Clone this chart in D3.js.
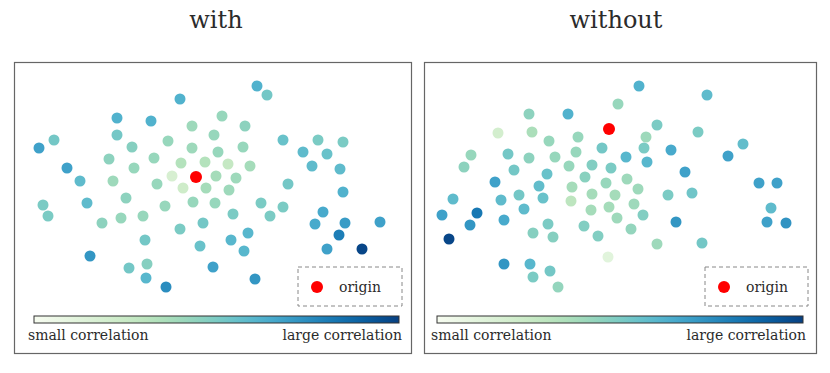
<!DOCTYPE html>
<html><head><meta charset="utf-8">
<script src="https://cdn.jsdelivr.net/npm/d3@7"></script>
<style>body{margin:0;background:#fff}svg{display:block}</style>
</head><body>
<script>
// Data: embedding coordinates (x, y) and correlation strength c (0..1)
const titles = ["with", "without"];
const legendLabel = "origin";
const cbarLabels = ["small correlation", "large correlation"];

const withX = [16.6,24.3,25.3,10.3,13.7,17.8,20.8,23.1,4.0,2.5,10.3,11.8,15.4,20.0,17.8,20.4,22.9,26.9,30.4,32.9,9.5,14.0,12.0,16.7,19.1,21.4,23.6,28.9,31.3,29.8,32.6,5.3,6.6,9.9,14.3,15.8,20.2,22.2,16.9,19.2,21.5,27.4,32.9,2.9,3.4,7.3,11.2,15.1,17.9,20.1,24.7,26.9,8.8,10.7,12.9,21.9,25.6,30.9,16.6,18.9,23.4,30.1,33.1,36.6,13.1,18.6,21.7,23.0,32.5,34.8,31.3,7.6,19.9,11.5,13.3,13.2,15.2,24.1];
const withY = [25.5,26.8,25.9,23.6,23.3,22.8,23.8,22.8,21.4,20.6,21.9,20.7,21.3,21.9,20.6,20.2,20.7,21.4,21.4,21.2,19.5,19.6,18.6,19.1,19.2,19.0,18.8,20.2,20.0,18.8,18.5,18.6,17.3,17.3,17.0,17.8,17.8,17.6,16.6,16.6,16.4,17.0,16.2,14.9,13.8,15.1,15.6,14.8,15.2,15.1,15.1,14.7,13.1,13.6,13.8,14.0,13.8,14.2,12.5,13.1,12.1,13.0,13.1,13.2,11.4,10.8,11.4,10.3,11.9,10.5,10.5,9.8,8.7,8.6,9.0,7.6,6.7,7.5];
const withC = [0.62,0.62,0.52,0.62,0.62,0.40,0.42,0.45,0.52,0.68,0.52,0.47,0.42,0.42,0.40,0.42,0.42,0.55,0.50,0.50,0.45,0.42,0.42,0.33,0.33,0.27,0.38,0.58,0.55,0.58,0.58,0.68,0.58,0.40,0.42,0.18,0.38,0.40,0.23,0.38,0.40,0.52,0.62,0.50,0.50,0.58,0.45,0.42,0.42,0.42,0.50,0.50,0.45,0.42,0.42,0.50,0.50,0.65,0.50,0.52,0.60,0.65,0.70,0.68,0.52,0.55,0.60,0.60,0.80,0.98,0.68,0.72,0.68,0.52,0.47,0.60,0.75,0.72];
const withOrigin = [18.2, 17.7];

const withoutX = [21.5,28.3,19.4,10.5,14.4,23.3,7.4,10.8,27.4,12.5,15.4,22.2,31.9,4.7,8.4,10.5,13.1,15.2,17.8,22.0,20.2,24.7,30.4,4.0,9.0,12.3,14.5,16.8,18.7,22.3,26.1,7.1,11.5,14.8,16.1,18.2,20.3,21.4,33.5,35.3,2.9,7.7,9.5,11.9,14.7,16.8,19.1,24.4,26.8,10.0,16.7,18.5,21.0,34.7,1.8,5.3,4.6,8.0,12.4,16.0,19.3,21.9,25.2,34.3,36.2,10.9,12.9,17.4,20.7,2.5,23.3,27.8,18.4,8.0,10.6,10.9,12.6,13.4];
const withoutY = [26.8,25.9,25.0,24.0,24.0,22.9,22.1,22.2,22.2,21.3,21.7,21.7,21.0,19.9,20.0,19.6,19.7,20.2,20.6,20.6,19.7,20.4,19.8,18.7,18.4,18.0,18.8,18.9,18.6,19.2,18.2,17.2,16.8,16.7,17.7,17.1,17.5,16.5,17.1,17.1,15.5,15.4,15.9,15.6,15.3,16.0,15.9,15.9,16.1,14.5,14.4,14.7,15.0,14.6,13.9,14.1,12.9,13.4,13.0,12.8,13.6,13.9,13.2,13.2,13.1,12.1,11.7,11.8,12.5,11.5,11.0,11.1,9.7,9.0,9.0,7.7,8.3,6.7];
const withoutC = [0.62,0.58,0.42,0.45,0.62,0.50,0.20,0.36,0.50,0.42,0.42,0.40,0.57,0.42,0.52,0.45,0.42,0.42,0.52,0.50,0.60,0.65,0.68,0.45,0.52,0.55,0.42,0.48,0.50,0.60,0.68,0.68,0.57,0.38,0.46,0.42,0.40,0.40,0.68,0.68,0.58,0.58,0.52,0.55,0.30,0.38,0.38,0.50,0.53,0.58,0.38,0.38,0.40,0.58,0.68,0.82,0.72,0.65,0.50,0.48,0.40,0.48,0.72,0.68,0.73,0.47,0.47,0.48,0.43,0.98,0.40,0.52,0.12,0.72,0.60,0.50,0.52,0.43];
const withoutOrigin = [18.5, 22.5];

const W = 830, H = 373;
const svg = d3.select("body").append("svg").attr("width", W).attr("height", H);
const serif = "'DejaVu Serif', serif";
const textCol = "#2b2b2b";
const color = d3.scaleSequential(d3.interpolateGnBu).domain([0, 1]);

// gradient
const defs = svg.append("defs");
const grad = defs.append("linearGradient").attr("id", "cbar").attr("x1", "0%").attr("x2", "100%");
d3.range(0, 1.0001, 0.05).forEach(t => grad.append("stop").attr("offset", (t * 100) + "%").attr("stop-color", color(t)));

const panels = [
  {title: titles[0], xs: withX, ys: withY, cs: withC, origin: withOrigin,
   left: 14, right: 412, titleX: 216, cbar: [34, 399], legend: [298, 402]},
  {title: titles[1], xs: withoutX, ys: withoutY, cs: withoutC, origin: withoutOrigin,
   left: 424, right: 817, titleX: 616, cbar: [437, 803], legend: [705, 808]}
];
const panelTop = 62, panelBottom = 354;

panels.forEach(p => {
  const g = svg.append("g");
  const w = p.right - p.left;
  const x = d3.scaleLinear().domain([0, w / 10]).range([p.left, p.right]);
  const y = d3.scaleLinear().domain([0, (panelBottom - panelTop) / 10]).range([panelBottom, panelTop]);

  g.append("text").attr("x", p.titleX).attr("y", 28).attr("text-anchor", "middle")
    .attr("font-family", serif).attr("font-size", 24).attr("fill", textCol).text(p.title);

  g.append("rect").attr("x", p.left + 0.5).attr("y", panelTop + 0.5).attr("width", w - 1).attr("height", panelBottom - panelTop - 1)
    .attr("fill", "none").attr("stroke", "#666").attr("stroke-width", 1.2);

  const pts = p.xs.map((v, i) => ({x: v, y: p.ys[i], c: p.cs[i]}));
  g.selectAll("circle.pt").data(pts).join("circle").attr("class", "pt")
    .attr("cx", d => x(d.x)).attr("cy", d => y(d.y)).attr("r", 5.5)
    .attr("fill", d => color(d.c));

  g.append("circle").attr("cx", x(p.origin[0])).attr("cy", y(p.origin[1])).attr("r", 6).attr("fill", "#ff0000");

  // legend
  const [lx0, lx1] = p.legend;
  g.append("rect").attr("x", lx0).attr("y", 267).attr("width", lx1 - lx0).attr("height", 39)
    .attr("fill", "#fff").attr("stroke", "#888").attr("stroke-width", 1).attr("stroke-dasharray", "4,3");
  g.append("circle").attr("cx", lx0 + 19).attr("cy", 287).attr("r", 6).attr("fill", "#ff0000");
  g.append("text").attr("x", lx0 + 41).attr("y", 292).attr("font-family", serif).attr("font-size", 14)
    .attr("fill", textCol).text(legendLabel);

  // colorbar
  const [cx0, cx1] = p.cbar;
  g.append("rect").attr("x", cx0).attr("y", 316).attr("width", cx1 - cx0).attr("height", 7)
    .attr("fill", "url(#cbar)").attr("stroke", "#333").attr("stroke-width", 1);
  g.append("text").attr("x", cx0 - 6).attr("y", 340).attr("font-family", serif).attr("font-size", 14)
    .attr("fill", textCol).text(cbarLabels[0]);
  g.append("text").attr("x", cx1 + 3).attr("y", 340).attr("text-anchor", "end").attr("font-family", serif).attr("font-size", 14)
    .attr("fill", textCol).text(cbarLabels[1]);
});
</script>
</body></html>
